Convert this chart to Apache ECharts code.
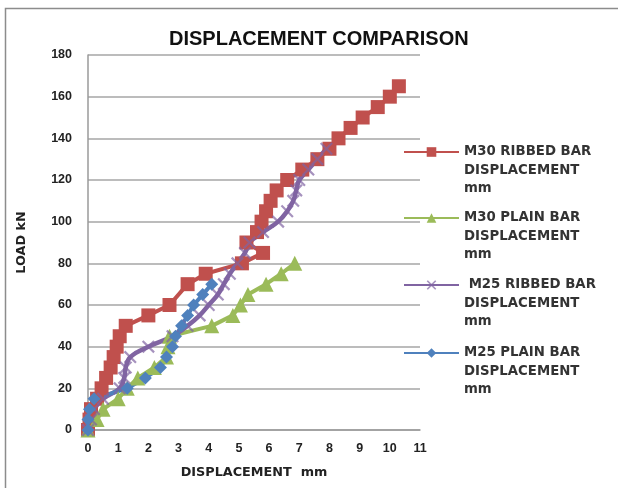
<!DOCTYPE html>
<html>
<head>
<meta charset="utf-8">
<script src="https://cdn.jsdelivr.net/npm/echarts@6/dist/echarts.min.js"></script>
<style>html,body{margin:0;padding:0;background:#fff;}#c{width:618px;height:488px;}</style>
</head>
<body>
<div id="c"></div>
<script>
// ---- data ----
const titleText = 'DISPLACEMENT COMPARISON';
const xAxisName = 'DISPLACEMENT  mm';
const yAxisName = 'LOAD kN';
const seriesNames = [
  'M30 RIBBED BAR\nDISPLACEMENT\nmm',
  'M30 PLAIN BAR\nDISPLACEMENT\nmm',
  ' M25 RIBBED BAR\nDISPLACEMENT\nmm',
  'M25 PLAIN BAR\nDISPLACEMENT\nmm'
];
const m30RibbedDisp = [0, 0.05, 0.1, 0.3, 0.45, 0.6, 0.75, 0.85, 0.95, 1.05, 1.25, 2.0, 2.7, 3.3, 3.9, 5.1, 5.8, 5.25, 5.6, 5.75, 5.9, 6.05, 6.25, 6.6, 7.1, 7.6, 8.0, 8.3, 8.7, 9.1, 9.6, 10.0, 10.3];
const m30RibbedLoad = [0, 5, 10, 15, 20, 25, 30, 35, 40, 45, 50, 55, 60, 70, 75, 80, 85, 90, 95, 100, 105, 110, 115, 120, 125, 130, 135, 140, 145, 150, 155, 160, 165];
const m30PlainDisp = [0, 0.3, 0.5, 1.0, 1.3, 1.65, 2.2, 2.6, 2.65, 2.7, 4.1, 4.8, 5.05, 5.3, 5.9, 6.4, 6.85];
const m30PlainLoad = [0, 5, 10, 15, 20, 25, 30, 35, 40, 45, 50, 55, 60, 65, 70, 75, 80];
const m25RibbedDisp = [0, 0.1, 0.2, 0.5, 1.05, 1.2, 1.25, 1.4, 2.0, 2.8, 3.3, 3.7, 4.0, 4.3, 4.5, 4.7, 4.95, 5.2, 5.35, 5.8, 6.3, 6.6, 6.8, 6.9, 7.0, 7.3, 7.6, 7.9];
const m25RibbedLoad = [0, 5, 10, 15, 20, 25, 30, 35, 40, 45, 50, 55, 60, 65, 70, 75, 80, 85, 90, 95, 100, 105, 110, 115, 120, 125, 130, 135];
const m25PlainDisp = [0, 0, 0.05, 0.2, 1.3, 1.9, 2.4, 2.6, 2.8, 2.9, 3.1, 3.3, 3.5, 3.8, 4.1];
const m25PlainLoad = [0, 5, 10, 15, 20, 25, 30, 35, 40, 45, 50, 55, 60, 65, 70];
const xMin = 0, xMax = 11, xStep = 1;
const yMin = 0, yMax = 180, yStep = 20;

const zip = (xs, ys) => xs.map((x, i) => [x, ys[i]]);
const colors = ['#C0504D', '#9BBB59', '#8064A2', '#4F81BD'];
const crossPath = 'path://M0,1.2L1.2,0L5,3.8L8.8,0L10,1.2L6.2,5L10,8.8L8.8,10L5,6.2L1.2,10L0,8.8L3.8,5Z';

const chart = echarts.init(document.getElementById('c'), null, {renderer: 'canvas'});
const legendIconY = [152, 218, 285, 353];
const legendLineH = 18.5;
const legends = seriesNames.map((n, i) => ({
  data: [n],
  left: 403,
  top: legendIconY[i] - legendLineH * 2.5,
  padding: 0,
  orient: 'vertical',
  itemWidth: 55,
  itemHeight: 12,
  itemGap: 0,
  formatter: name => '\n\n' + name,
  textStyle: {fontFamily: 'DejaVu Sans', fontWeight: 'bold', fontSize: 13.3, color: '#333', lineHeight: legendLineH},
  selectedMode: false
}));

chart.setOption({
  animation: false,
  backgroundColor: '#fff',
  color: colors,
  title: {
    text: titleText, left: 164, top: 24,
    textStyle: {fontFamily: 'Liberation Sans', fontWeight: 'bold', fontSize: 20, color: '#111'}
  },
  graphic: [{
    type: 'rect', silent: true, z: -1,
    shape: {x: 5.5, y: 8.5, width: 640, height: 520},
    style: {fill: 'none', stroke: '#8c8c8c', lineWidth: 1.5}
  }],
  legend: legends,
  grid: {left: 88, right: 198, top: 55, bottom: 58, containLabel: false},
  xAxis: {
    type: 'value', min: xMin, max: xMax, interval: xStep,
    name: xAxisName, nameLocation: 'middle', nameGap: 36,
    nameTextStyle: {fontFamily: 'DejaVu Sans', fontWeight: 'bold', fontSize: 12.8, color: '#222'},
    axisLine: {show: true, lineStyle: {color: '#9a9a9a', width: 1.5}},
    axisTick: {show: false},
    splitLine: {show: false},
    axisLabel: {fontFamily: 'Liberation Sans', fontWeight: 'bold', fontSize: 12.5, color: '#222', margin: 12}
  },
  yAxis: {
    type: 'value', min: yMin, max: yMax, interval: yStep,
    name: yAxisName, nameLocation: 'middle', nameGap: 60, nameRotate: 90,
    nameTextStyle: {fontFamily: 'DejaVu Sans', fontWeight: 'bold', fontSize: 12.8, color: '#222'},
    axisLine: {show: true, lineStyle: {color: '#9a9a9a', width: 1.5}},
    axisTick: {show: false},
    splitLine: {show: true, lineStyle: {color: '#a6a6a6', width: 1.5}},
    axisLabel: {fontFamily: 'Liberation Sans', fontWeight: 'bold', fontSize: 12.5, color: '#222', margin: 16}
  },
  series: [
    {name: seriesNames[0], type: 'line', data: zip(m30RibbedDisp, m30RibbedLoad),
     symbol: 'rect', symbolSize: 14, lineStyle: {width: 4}, itemStyle: {color: colors[0]}},
    {name: seriesNames[1], type: 'line', data: zip(m30PlainDisp, m30PlainLoad),
     symbol: 'triangle', symbolSize: 15, lineStyle: {width: 4}, itemStyle: {color: colors[1]}},
    {name: seriesNames[2], type: 'line', data: zip(m25RibbedDisp, m25RibbedLoad), smooth: 0.4,
     symbol: crossPath, symbolSize: 13, lineStyle: {width: 4.5}, itemStyle: {color: colors[2], opacity: 0.7}},
    {name: seriesNames[3], type: 'line', data: zip(m25PlainDisp, m25PlainLoad),
     symbol: 'diamond', symbolSize: 13, lineStyle: {width: 4}, itemStyle: {color: colors[3]}}
  ]
});
</script>
</body>
</html>
